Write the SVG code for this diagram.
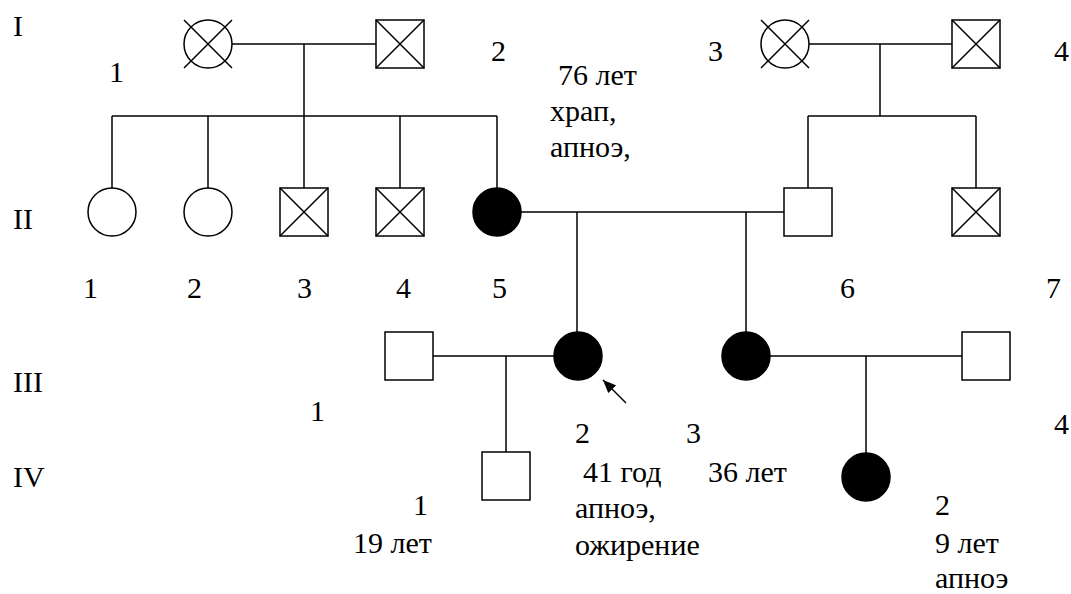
<svg xmlns="http://www.w3.org/2000/svg" width="1071" height="594" viewBox="0 0 1071 594">
<style>
.l{stroke:#000;stroke-width:1.5;fill:none}
.o{stroke:#000;stroke-width:1.5;fill:#fff}
.f{stroke:#000;stroke-width:1.5;fill:#000}
</style>
<defs>
<marker id="ah" markerUnits="userSpaceOnUse" markerWidth="13" markerHeight="11" refX="13" refY="5.5" orient="auto">
<path d="M0,0 L13,5.5 L0,11 z" fill="#000"/>
</marker>
</defs>
<g id="connectors">
<path class="l" d="M232,44 H376 M304,44 V116 M112,116 H497 M112,116 V188 M208,116 V188 M304,116 V188 M400,116 V188 M497,116 V188"/>
<path class="l" d="M809,44 H952 M880,44 V116 M808,116 H976 M808,116 V188 M976,116 V188"/>
<path class="l" d="M521,212 H784 M577,212 V332 M746,212 V332"/>
<path class="l" d="M433,356 H554 M506,356 V452"/>
<path class="l" d="M770,356 H962 M866,356 V453"/>
<line class="l" x1="626" y1="403" x2="603" y2="380" marker-end="url(#ah)"/>
</g>
<g id="I-1"><circle class="o" cx="208" cy="44" r="24"/><path class="l" d="M184,20 L232,68 M232,20 L184,68"/></g>
<g id="I-2"><rect class="o" x="376" y="20" width="48" height="48"/><path class="l" d="M376,20 L424,68 M424,20 L376,68"/></g>
<g id="I-3"><circle class="o" cx="785" cy="44" r="24"/><path class="l" d="M761,20 L809,68 M809,20 L761,68"/></g>
<g id="I-4"><rect class="o" x="952" y="20" width="48" height="48"/><path class="l" d="M952,20 L1000,68 M1000,20 L952,68"/></g>
<g id="II-1"><circle class="o" cx="112" cy="212" r="24"/></g>
<g id="II-2"><circle class="o" cx="208" cy="212" r="24"/></g>
<g id="II-3"><rect class="o" x="280" y="188" width="48" height="48"/><path class="l" d="M280,188 L328,236 M328,188 L280,236"/></g>
<g id="II-4"><rect class="o" x="376" y="188" width="48" height="48"/><path class="l" d="M376,188 L424,236 M424,188 L376,236"/></g>
<g id="II-5"><circle class="f" cx="497" cy="212" r="24"/></g>
<g id="II-6"><rect class="o" x="784" y="188" width="48" height="48"/></g>
<g id="II-7"><rect class="o" x="952" y="188" width="48" height="48"/><path class="l" d="M952,188 L1000,236 M1000,188 L952,236"/></g>
<g id="III-1"><rect class="o" x="385" y="332" width="48" height="48"/></g>
<g id="III-2"><circle class="f" cx="578" cy="356" r="24"/></g>
<g id="III-3"><circle class="f" cx="746" cy="356" r="24"/></g>
<g id="III-4"><rect class="o" x="962" y="332" width="48" height="48"/></g>
<g id="IV-1"><rect class="o" x="482" y="452" width="48" height="48"/></g>
<g id="IV-2"><circle class="f" cx="866" cy="477" r="24"/></g>
<g id="labels" font-family="Liberation Serif, Tinos, Times New Roman, serif" font-size="30" fill="#000">
<text x="13" y="36">I</text>
<text x="13" y="229">II</text>
<text x="13" y="392">III</text>
<text x="13" y="487">IV</text>
<text x="109" y="82">1</text>
<text x="491" y="61">2</text>
<text x="708" y="61">3</text>
<text x="1054" y="61">4</text>
<text x="558" y="85">76 лет</text>
<text x="550" y="121">храп,</text>
<text x="550" y="157">апноэ,</text>
<text x="83" y="298">1</text>
<text x="187" y="298">2</text>
<text x="297" y="298">3</text>
<text x="396" y="298">4</text>
<text x="492" y="298">5</text>
<text x="840" y="298">6</text>
<text x="1046" y="298">7</text>
<text x="310" y="421">1</text>
<text x="575" y="443">2</text>
<text x="686" y="443">3</text>
<text x="1054" y="434">4</text>
<text x="583" y="482">41 год</text>
<text x="575" y="518">апноэ,</text>
<text x="575" y="555">ожирение</text>
<text x="708" y="482">36 лет</text>
<text x="413" y="515">1</text>
<text x="353" y="553">19 лет</text>
<text x="935" y="515">2</text>
<text x="935" y="553">9 лет</text>
<text x="935" y="588">апноэ</text>
</g>
</svg>
